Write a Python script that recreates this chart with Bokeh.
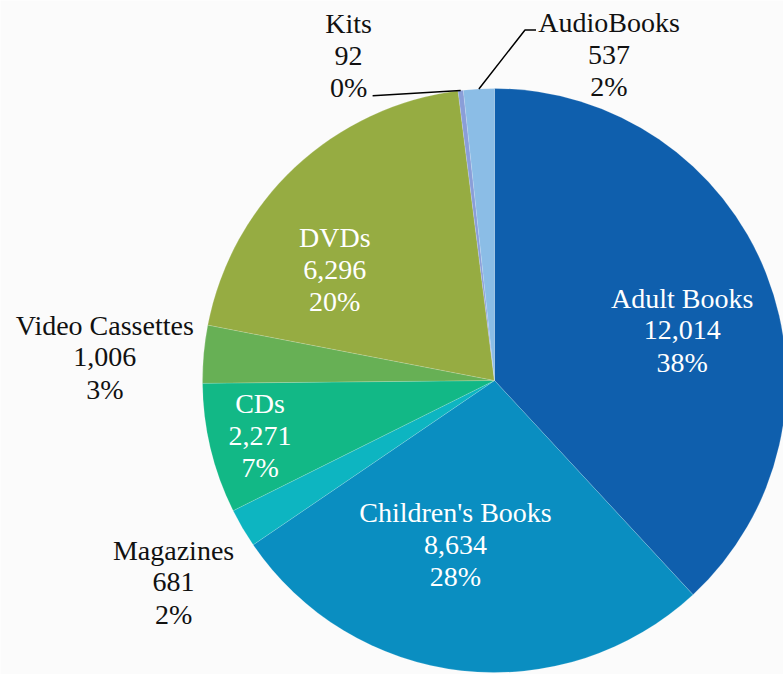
import math
from bokeh.plotting import figure
from bokeh.models import ColumnDataSource, Range1d
from bokeh.core.properties import value
from bokeh.embed import file_html
from bokeh.resources import INLINE

# ---- data ----
categories = ["Adult Books", "Children's Books", "Magazines", "CDs",
              "Video Cassettes", "DVDs", "Kits", "AudioBooks"]
counts = [12014, 8634, 681, 2271, 1006, 6296, 92, 537]
pct_labels = [38, 28, 2, 7, 3, 20, 0, 2]

# ---- styles / layout ----
colors = ["#0F5FAD", "#0A8EC1", "#0DB5C1", "#12B886",
          "#67B055", "#96AC42", "#8A9ED8", "#8BBDE6"]
label_colors = ["white", "white", "#111111", "white",
                "#111111", "white", "#111111", "#111111"]
# label placement: radial factor along slice mid-angle, plus pixel nudge
label_rf = [0.65, 0.58, 1.25, 0.78, 1.34, 0.68, 1.12, 1.12]
label_nudge = [(11, 19), (-20, -4), (-6, 17), (-13, 2),
               (0, 12), (-24, 34), (-108, 0), (132, 1)]

W, H = 783, 674
CX, CY, R = 494, -380, 292
LINE = 32

p = figure(width=W, height=H, output_backend="svg", toolbar_location=None,
           x_range=Range1d(0, W), y_range=Range1d(-H, 0),
           x_axis_location=None, y_axis_location=None, min_border=0)
p.grid.visible = False
p.outline_line_color = None
p.background_fill_color = "#fbfbfb"
p.border_fill_color = "#fbfbfb"

total = sum(counts)
cum = 0.0
starts, ends, mids = [], [], []
for c in counts:
    t0 = 2 * math.pi * cum / total
    cum += c
    t1 = 2 * math.pi * cum / total
    # clockwise from 12 o'clock -> bokeh angles (anticlockwise from +x)
    starts.append(math.pi / 2 - t1)
    ends.append(math.pi / 2 - t0)
    mids.append((t0 + t1) / 2)

src = ColumnDataSource(dict(start=starts, end=ends, color=colors,
                            cat=categories))
p.wedge(x=CX, y=CY, radius=R, start_angle="start", end_angle="end",
        direction="anticlock", fill_color="color",
        line_color="white", line_width=0.5, line_alpha=0.3, source=src)

# labels
tx, ty, tt, tc = [], [], [], []
label_centers = []
for i, cat in enumerate(categories):
    m = mids[i]
    lx = CX + label_rf[i] * R * math.sin(m) + label_nudge[i][0]
    ly = CY + label_rf[i] * R * math.cos(m) - label_nudge[i][1]
    label_centers.append((lx, ly))
    lines = [cat, "{:,}".format(counts[i]), "{}%".format(pct_labels[i])]
    for k, s in enumerate(lines):
        tx.append(lx)
        ty.append(ly + (1 - k) * LINE)
        tt.append(s)
        tc.append(label_colors[i])

p.text(x=tx, y=ty, text=tt, text_color=tc,
       text_font=value("Liberation Serif"), text_font_size="28px",
       text_align="center", text_baseline="middle")

# leader lines for the two small outside slices
ki = categories.index("Kits")
ai = categories.index("AudioBooks")
ex_k = CX + R * math.sin(mids[ki]); ey_k = CY + R * math.cos(mids[ki])
lk = label_centers[ki]
p.line([lk[0] + 24, ex_k], [lk[1] - 40, ey_k], line_color="black", line_width=1.5)

ex_a = CX + R * math.sin(mids[ai]); ey_a = CY + R * math.cos(mids[ai])
la = label_centers[ai]
p.line([ex_a, la[0] - 84, la[0] - 73], [ey_a, la[1] + 25, la[1] + 25],
       line_color="black", line_width=1.5)

open("out.html", "w").write(file_html(p, INLINE))
